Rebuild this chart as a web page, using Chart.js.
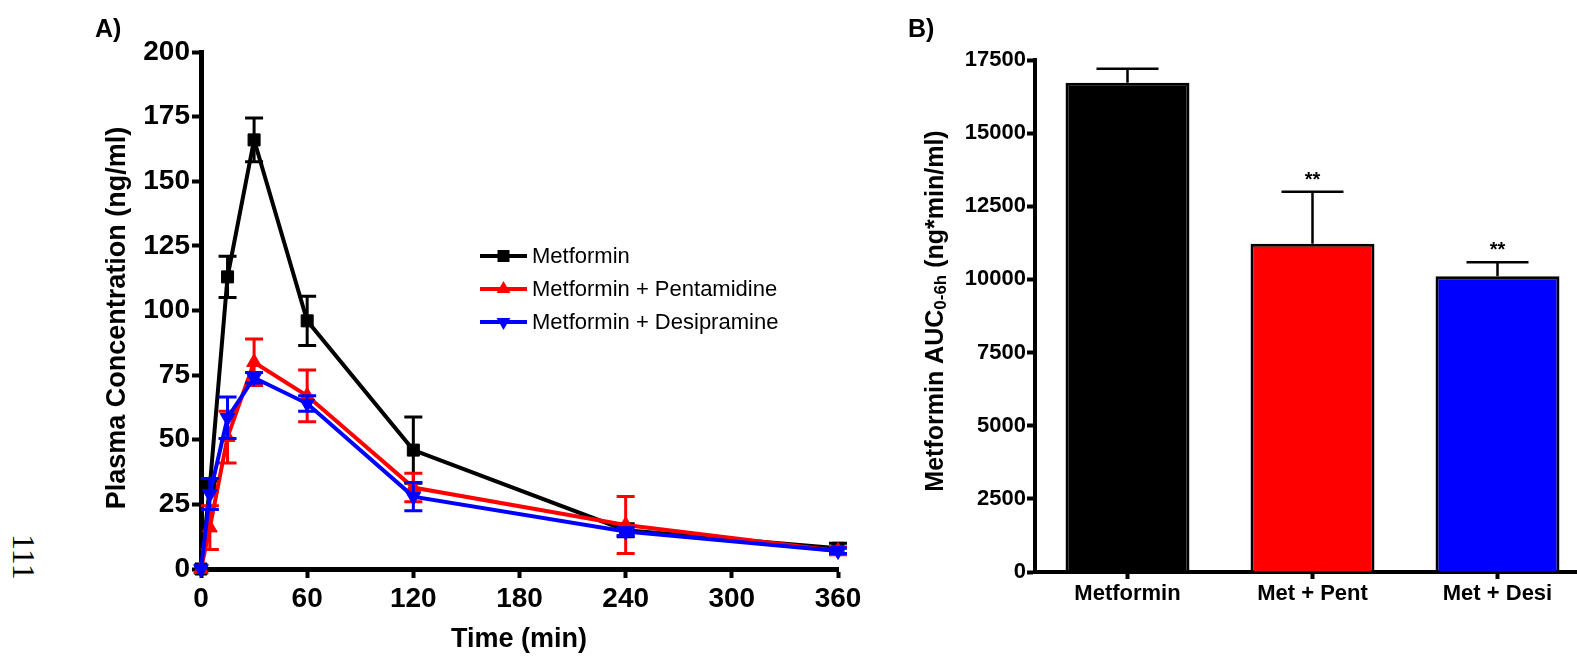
<!DOCTYPE html>
<html lang="en">
<head>
  <meta charset="UTF-8">
  <title>Metformin plasma concentration and AUC</title>
  <script src="https://cdn.jsdelivr.net/npm/chart.js"></script>
  <style>
    html, body { margin: 0; padding: 0; overflow: hidden; background: #fff; }
    body { width: 1577px; height: 660px; position: relative; font-family: "Liberation Sans", Arial, sans-serif; }
    #boxA { position: absolute; left: 0; top: 0; }
    #boxB { position: absolute; left: 890px; top: 0; }
    .page-no {
      position: absolute; left: 0; top: 542px; width: 48px; height: 32px;
      font-family: "Liberation Serif", serif; font-size: 32px; line-height: 32px;
      transform: rotate(90deg); transform-origin: 24px 16px; white-space: nowrap;
    }
  </style>
</head>
<body>
  <div class="page-no">111</div>
  <canvas id="boxA" width="880" height="660"></canvas>
  <canvas id="boxB" width="720" height="660"></canvas>

  <script>
    // A) plasma concentration vs time
    const times = [0, 5, 15, 30, 60, 120, 240, 360];
    const metformin = [0, 32, 113, 166, 96, 46, 15, 8];
    const metforminSem = [0, 2, 8, 8.5, 9.5, 12.8, 2.5, 2];
    const metPent = [0, 16, 51, 80, 67, 31.5, 17, 7];
    const metPentSem = [0, 8.5, 10, 9, 10, 5.5, 11, 1.5];
    const metDesi = [0, 29, 58.5, 74, 64, 28, 14.5, 7];
    const metDesiSem = [0, 6, 8, 2, 3, 5.5, 1.5, 1];
    const seriesNames = ['Metformin', 'Metformin + Pentamidine', 'Metformin + Desipramine'];

    // B) AUC 0-6h
    const groups = ['Metformin', 'Met + Pent', 'Met + Desi'];
    const aucMean = [16720, 11220, 10110];
    const aucSem = [480, 1780, 480];
    const aucMarks = ['', '**', '**'];

    Chart.defaults.font.family = '"Liberation Sans", Arial, sans-serif';
    Chart.defaults.color = '#000';

    const bold = (size) => ({ family: '"Liberation Sans", Arial, sans-serif', size: size, weight: 'bold' });
    const plain = (v) => String(v);

    // error bars drawn right after their own dataset, through the scales
    const errorBars = {
      id: 'errorBars',
      afterDatasetDraw(chart, args) {
        const ds = chart.data.datasets[args.index];
        if (!ds.sem) return;
        const ctx = chart.ctx;
        const ys = chart.scales.y;
        ctx.save();
        ctx.strokeStyle = ds.errColor;
        ctx.lineWidth = ds.errWidth;
        args.meta.data.forEach((el, i) => {
          const s = ds.sem[i];
          if (!s) return;
          const v = typeof ds.data[i] === 'object' ? ds.data[i].y : ds.data[i];
          const x = el.x;
          const top = ys.getPixelForValue(v + s);
          const bot = ds.errBoth ? ys.getPixelForValue(v - s) : el.y;
          const w = ds.capHalf;
          ctx.beginPath();
          ctx.moveTo(x, top); ctx.lineTo(x, bot);
          ctx.moveTo(x - w, top); ctx.lineTo(x + w, top);
          if (ds.errBoth) { ctx.moveTo(x - w, bot); ctx.lineTo(x + w, bot); }
          ctx.stroke();
        });
        ctx.restore();
      }
    };

    function marker(ctx, style, x, y, color) {
      ctx.fillStyle = color;
      ctx.beginPath();
      if (style === 'rect') {
        ctx.rect(x - 6, y - 6, 12, 12);
      } else {
        const r = 8, dir = style === 'up' ? -1 : 1;
        ctx.moveTo(x, y + dir * r);
        ctx.lineTo(x + r * 0.866, y - dir * r * 0.5);
        ctx.lineTo(x - r * 0.866, y - dir * r * 0.5);
        ctx.closePath();
      }
      ctx.fill();
    }

    const textA = {
      id: 'textA',
      afterDraw(chart) {
        const ctx = chart.ctx;
        ctx.save();
        ctx.fillStyle = '#000';
        ctx.font = 'bold 25px "Liberation Sans"';
        ctx.textAlign = 'left';
        ctx.textBaseline = 'alphabetic';
        ctx.fillText('A)', 95, 37);

        ctx.font = 'bold 27px "Liberation Sans"';
        ctx.textAlign = 'center';
        ctx.textBaseline = 'middle';
        ctx.fillText('Time (min)', 519, 640);
        ctx.save();
        ctx.translate(118, 318);
        ctx.rotate(-Math.PI / 2);
        ctx.fillText('Plasma Concentration (ng/ml)', 0, 0);
        ctx.restore();

        // legend
        const cols = ['#000000', '#ff0000', '#0000ff'];
        const marks = ['rect', 'up', 'down'];
        const rows = [256, 289, 322];
        ctx.font = '22px "Liberation Sans"';
        ctx.textAlign = 'left';
        rows.forEach((y, i) => {
          ctx.strokeStyle = cols[i];
          ctx.lineWidth = 4;
          ctx.beginPath();
          ctx.moveTo(480, y); ctx.lineTo(527, y);
          ctx.stroke();
          marker(ctx, marks[i], 503.5, y, cols[i]);
          ctx.fillStyle = '#000';
          ctx.fillText(seriesNames[i], 532, y + 1);
        });
        ctx.restore();
      }
    };

    const toPoints = (vals) => times.map((t, i) => ({ x: t, y: vals[i] }));

    function lineSet(label, vals, sem, color, style, rot, order) {
      return {
        label: label,
        data: toPoints(vals),
        sem: sem,
        errBoth: true,
        errColor: color,
        errWidth: 3,
        capHalf: 9,
        borderColor: color,
        backgroundColor: color,
        borderWidth: 4,
        pointStyle: style,
        pointRotation: rot,
        pointRadius: 8.5,
        pointBorderWidth: 1,
        pointBorderColor: color,
        pointBackgroundColor: color,
        tension: 0,
        clip: false,
        order: order
      };
    }

    new Chart(document.getElementById('boxA'), {
      type: 'line',
      data: {
        datasets: [
          lineSet(seriesNames[0], metformin, metforminSem, '#000000', 'rect', 0, 3),
          lineSet(seriesNames[1], metPent, metPentSem, '#ff0000', 'triangle', 0, 2),
          lineSet(seriesNames[2], metDesi, metDesiSem, '#0000ff', 'triangle', 180, 1)
        ]
      },
      options: {
        responsive: false,
        animation: false,
        events: [],
        layout: { padding: { left: 0, top: 52, right: 42, bottom: 0 } },
        plugins: { legend: { display: false }, tooltip: { enabled: false } },
        scales: {
          x: {
            type: 'linear', min: 0, max: 360,
            ticks: { stepSize: 60, font: bold(28), padding: 4, maxRotation: 0, color: '#000', callback: plain },
            grid: { drawOnChartArea: false, drawTicks: true, tickLength: 9, tickWidth: 4, tickColor: '#000' },
            border: { color: '#000', width: 5 },
            afterFit(s) { s.height = 91; }
          },
          y: {
            min: 0, max: 200,
            ticks: { stepSize: 25, font: bold(28), padding: 2, color: '#000', callback: plain },
            grid: { drawOnChartArea: false, drawTicks: true, tickLength: 9, tickWidth: 4, tickColor: '#000' },
            border: { color: '#000', width: 5 },
            afterFit(s) { s.width = 201; }
          }
        }
      },
      plugins: [errorBars, textA]
    });

    const textB = {
      id: 'textB',
      afterDraw(chart) {
        const ctx = chart.ctx;
        ctx.save();
        ctx.fillStyle = '#000';
        ctx.font = 'bold 25px "Liberation Sans"';
        ctx.textAlign = 'left';
        ctx.textBaseline = 'alphabetic';
        ctx.fillText('B)', 18, 37);

        // significance marks above the error caps
        const meta = chart.getDatasetMeta(0);
        ctx.font = 'bold 20px "Liberation Sans"';
        ctx.textAlign = 'center';
        meta.data.forEach((bar, i) => {
          if (!aucMarks[i]) return;
          const capY = chart.scales.y.getPixelForValue(aucMean[i] + aucSem[i]);
          ctx.fillText(aucMarks[i], bar.x, capY - 6);
        });

        // y title with subscript
        const big = 'bold 25px "Liberation Sans"';
        const small = 'bold 17px "Liberation Sans"';
        const parts = [['Metformin AUC', big, 0], ['0-6h', small, 5], [' (ng*min/ml)', big, 0]];
        let total = 0;
        parts.forEach(p => { ctx.font = p[1]; total += ctx.measureText(p[0]).width; });
        ctx.save();
        ctx.translate(46, 311);
        ctx.rotate(-Math.PI / 2);
        ctx.textAlign = 'left';
        ctx.textBaseline = 'middle';
        let x = -total / 2;
        parts.forEach(p => {
          ctx.font = p[1];
          ctx.fillText(p[0], x, p[2]);
          x += ctx.measureText(p[0]).width;
        });
        ctx.restore();
        ctx.restore();
      }
    };

    new Chart(document.getElementById('boxB'), {
      type: 'bar',
      data: {
        labels: groups,
        datasets: [{
          label: 'AUC',
          data: aucMean,
          sem: aucSem,
          errBoth: false,
          errColor: '#000',
          errWidth: 2.5,
          capHalf: 31,
          backgroundColor: ['#000000', '#ff0000', '#0000ff'],
          borderColor: '#000',
          borderWidth: 3,
          borderSkipped: 'start',
          barPercentage: 0.67,
          categoryPercentage: 1
        }]
      },
      options: {
        responsive: false,
        animation: false,
        events: [],
        layout: { padding: { left: 0, top: 60, right: 20, bottom: 0 } },
        plugins: { legend: { display: false }, tooltip: { enabled: false } },
        scales: {
          x: {
            offset: true,
            ticks: { font: bold(22), padding: 2, color: '#000' },
            grid: { offset: false, drawOnChartArea: false, drawTicks: true, tickLength: 7, tickWidth: 4, tickColor: '#000' },
            border: { color: '#000', width: 4 },
            afterFit(s) { s.height = 88; }
          },
          y: {
            min: 0, max: 17500,
            ticks: { stepSize: 2500, font: bold(22), padding: 1, color: '#000', callback: plain },
            grid: { drawOnChartArea: false, drawTicks: true, tickLength: 8, tickWidth: 4, tickColor: '#000' },
            border: { color: '#000', width: 4 },
            afterFit(s) { s.width = 145; }
          }
        }
      },
      plugins: [errorBars, textB]
    });
  </script>
</body>
</html>
